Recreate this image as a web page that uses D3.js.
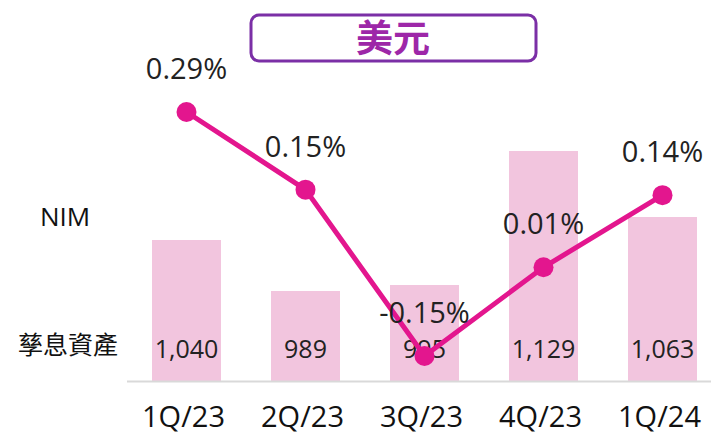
<!DOCTYPE html>
<html>
<head>
<meta charset="utf-8">
<script src="https://cdn.jsdelivr.net/npm/d3@7"></script>
<style>
  body { margin: 0; background: #fff; }
  text { font-family: "Open Sans", "Noto Sans CJK TC", sans-serif; }
</style>
</head>
<body>
<svg id="chart" width="711" height="438"></svg>
<script>
// quarters + values
let quarters = ['1Q/23', '2Q/23', '3Q/23', '4Q/23', '1Q/24'];
let assets = [1040, 989, 995, 1129, 1063];
let nim = [0.29, 0.15, -0.15, 0.01, 0.14];
let nimLabels = ['0.29%', '0.15%', '-0.15%', '0.01%', '0.14%'];

const pink = '#e3168e',
      barColor = '#f2c5de';

let svg = d3.select('#chart');

let x = d3.scaleBand()
  .domain(quarters)
  .range([127, 722])
  .paddingInner(0.42)
  .paddingOuter(0.21);

// bars are not zero based on the original
let yBar = d3.scaleLinear()
  .domain([899, 1129])
  .range([381, 151]);

let yNim = d3.scaleLinear()
  .domain([-0.15, 0.29])
  .range([356, 112]);

// title box
svg.append('rect')
  .attr('x', 251)
  .attr('y', 15)
  .attr('width', 285)
  .attr('height', 46)
  .attr('rx', 8)
  .attr('fill', '#fff')
  .attr('stroke', '#7b2fa6')
  .attr('stroke-width', 3);

svg.append('text')
  .text('美元')
  .attr('x', 393)
  .attr('y', 52)
  .attr('text-anchor', 'middle')
  .attr('font-family', '"Noto Sans CJK TC", sans-serif')
  .attr('font-size', 37)
  .attr('font-weight', 'bold')
  .attr('fill', '#9d27a8');

// side labels
svg.append('text')
  .text('NIM')
  .attr('x', 65)
  .attr('y', 226)
  .attr('text-anchor', 'middle')
  .attr('font-size', 26)
  .attr('fill', '#111');

svg.append('text')
  .text('孳息資產')
  .attr('x', 68)
  .attr('y', 354)
  .attr('text-anchor', 'middle')
  .attr('font-family', '"Noto Sans CJK TC", sans-serif')
  .attr('font-size', 25)
  .attr('fill', '#111');

let data = quarters.map((q, i) => ({
  q: q,
  asset: assets[i],
  nim: nim[i],
  label: nimLabels[i]
}));

svg.selectAll('.bar')
  .data(data)
  .enter().append('rect')
    .attr('class', 'bar')
    .attr('x', (d) => x(d.q))
    .attr('y', (d) => yBar(d.asset))
    .attr('width', x.bandwidth())
    .attr('height', (d) => yBar.range()[0] - yBar(d.asset))
    .attr('fill', barColor);

// baseline
svg.append('line')
  .attr('x1', 127)
  .attr('x2', 711)
  .attr('y1', 381.5)
  .attr('y2', 381.5)
  .attr('stroke', '#d9d9d9')
  .attr('stroke-width', 2);

svg.selectAll('.val')
  .data(data)
  .enter().append('text')
    .attr('class', 'val')
    .text((d) => d3.format(',')(d.asset))
    .attr('x', (d) => x(d.q) + x.bandwidth() / 2)
    .attr('y', 358)
    .attr('text-anchor', 'middle')
    .attr('font-size', 25)
    .attr('fill', '#222');

let line = d3.line()
  .x((d) => x(d.q) + x.bandwidth() / 2)
  .y((d) => yNim(d.nim));

svg.append('path')
  .datum(data)
  .attr('d', line)
  .attr('fill', 'none')
  .attr('stroke', pink)
  .attr('stroke-width', 5);

svg.selectAll('.dot')
  .data(data)
  .enter().append('circle')
    .attr('class', 'dot')
    .attr('cx', (d) => x(d.q) + x.bandwidth() / 2)
    .attr('cy', (d) => yNim(d.nim))
    .attr('r', 10)
    .attr('fill', pink);

svg.selectAll('.pct')
  .data(data)
  .enter().append('text')
    .attr('class', 'pct')
    .text((d) => d.label)
    .attr('x', (d) => x(d.q) + x.bandwidth() / 2)
    .attr('y', (d) => yNim(d.nim) - 33)
    .attr('text-anchor', 'middle')
    .attr('font-size', 29)
    .attr('fill', '#222');

// category labels
svg.selectAll('.cat')
  .data(quarters)
  .enter().append('text')
    .attr('class', 'cat')
    .text((d) => d)
    .attr('x', (d) => x(d) + x.bandwidth() / 2 - 3)
    .attr('y', 427)
    .attr('text-anchor', 'middle')
    .attr('font-size', 29)
    .attr('fill', '#111');
</script>
</body>
</html>
